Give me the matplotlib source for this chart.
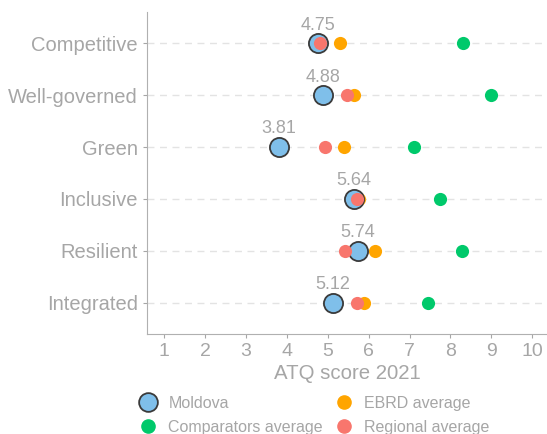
import numpy as np
import matplotlib.pyplot as plt
from matplotlib.lines import Line2D

plt.rcParams['font.family'] = ['Liberation Sans', 'DejaVu Sans']

pillars = ['Competitive', 'Well-governed', 'Green', 'Inclusive', 'Resilient', 'Integrated']
moldova = [4.75, 4.88, 3.81, 5.64, 5.74, 5.12]
ebrd_avg = [5.30, 5.64, 5.40, 5.77, 6.16, 5.89]
comparators_avg = [8.31, 9.00, 7.11, 7.75, 8.29, 7.45]
regional_avg = [4.81, 5.48, 4.94, 5.72, 5.43, 5.71]

GREY = '#a6a6a6'
C_MOL = '#7fbfea'
C_EBRD = '#ffa500'
C_COMP = '#00c96b'
C_REG = '#f8766d'

fig = plt.figure(figsize=(5.47, 4.34), dpi=100)
ax = fig.add_axes([0.2687, 0.2304, 0.7313, 0.742])

y = np.arange(len(pillars))[::-1] + 1

for yy in y:
    ax.axhline(yy, color='#e3e3e3', lw=1, ls=(0, (5, 4)), zorder=0)

ax.scatter(comparators_avg, y, s=90, color=C_COMP, zorder=3, linewidths=0)
ax.scatter(ebrd_avg, y, s=90, color=C_EBRD, zorder=3, linewidths=0)
ax.scatter(moldova, y, s=190, color=C_MOL, edgecolors='#3a3a3a', linewidths=1.3, zorder=4)
ax.scatter(regional_avg, y, s=90, color=C_REG, zorder=5, linewidths=0)

for xv, yv in zip(moldova, y):
    ax.annotate(f'{xv:.2f}', (xv, yv), xytext=(0, 13), textcoords='offset points',
                ha='center', va='center', fontsize=13, color=GREY)

ax.set_xlim(0.58, 10.36)
ax.set_ylim(0.4, 6.6)
ax.set_xticks(range(1, 11))
ax.set_yticks(y)
ax.set_yticklabels(pillars)
ax.tick_params(axis='both', colors=GREY, labelsize=14, length=3)
ax.tick_params(axis='y', labelsize=14.5)
ax.set_xlabel('ATQ score 2021', color=GREY, fontsize=14.7, labelpad=3)

for side in ['top', 'right']:
    ax.spines[side].set_visible(False)
for side in ['left', 'bottom']:
    ax.spines[side].set_color('#b0b0b0')

handles = [
    Line2D([], [], marker='o', ls='', markersize=13.5, markerfacecolor=C_MOL,
           markeredgecolor='#3a3a3a', markeredgewidth=1.3, label='Moldova'),
    Line2D([], [], marker='o', ls='', markersize=9.5, color=C_COMP, label='Comparators average'),
    Line2D([], [], marker='o', ls='', markersize=9.5, color=C_EBRD, label='EBRD average'),
    Line2D([], [], marker='o', ls='', markersize=9.5, color=C_REG, label='Regional average'),
]
leg = fig.legend(handles=handles, ncol=2, loc='center', bbox_to_anchor=(0.571, 0.043),
                 frameon=False, fontsize=11.5, labelcolor=GREY, handletextpad=0.5,
                 handlelength=1.6, columnspacing=0.5, labelspacing=0.55, borderaxespad=0,
                 borderpad=0)

fig.savefig('out.png', dpi=100)
